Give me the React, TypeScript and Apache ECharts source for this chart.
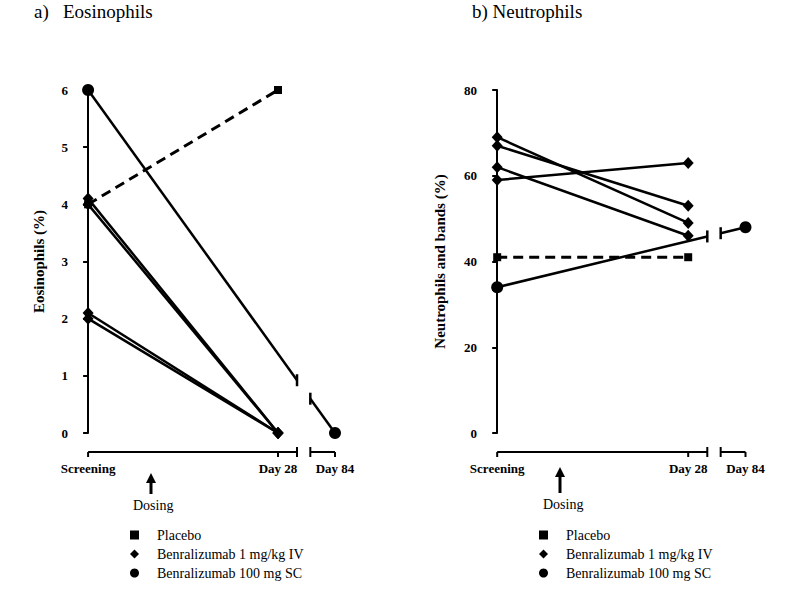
import React, { useEffect, useRef } from "react";
import * as echarts from "echarts";

// ---- data ----
const timeLabels = ["Screening", "Day 28", "Day 84"];
const timeX = [0, 1, 1.3];
const breakX = [1.1, 1.17];
const seriesNames = ["Placebo", "Benralizumab 1 mg/kg IV", "Benralizumab 100 mg SC"];

// Eosinophils (%): [Screening, Day 28] ; SC: [Screening, Day 84]
const eosPlacebo = [[4.0, 6.0]];
const eosIV = [[4.1, 0], [4.0, 0], [2.1, 0], [2.0, 0]];
const eosSC = [[6.0, 0]];

// Neutrophils and bands (%)
const neuPlacebo = [[41, 41]];
const neuIV = [[69, 49], [67, 53], [62, 46], [59, 63]];
const neuSC = [[34, 48]];

const eosTicks = { min: 0, max: 6, interval: 1 };
const neuTicks = { min: 0, max: 80, interval: 20 };

const SERIF = "Liberation Serif, Times New Roman, serif";
const BLACK = "#000";

function panelSeries(gi: number, placebo: number[][], iv: number[][], sc: number[][]) {
  const s: any[] = [];
  placebo.forEach((p) =>
    s.push({
      type: "line",
      name: seriesNames[0],
      xAxisIndex: gi,
      yAxisIndex: gi,
      data: [[timeX[0], p[0]], [timeX[1], p[1]]],
      symbol: "rect",
      symbolSize: 8,
      lineStyle: { color: BLACK, width: 3, type: [10, 6] },
      itemStyle: { color: BLACK, opacity: 1 },
      z: 3,
    })
  );
  iv.forEach((p) =>
    s.push({
      type: "line",
      name: seriesNames[1],
      xAxisIndex: gi,
      yAxisIndex: gi,
      data: [[timeX[0], p[0]], [timeX[1], p[1]]],
      symbol: "diamond",
      symbolSize: [11, 12],
      lineStyle: { color: BLACK, width: 2.5 },
      itemStyle: { color: BLACK, opacity: 1 },
      z: 4,
    })
  );
  sc.forEach((p) => {
    s.push({
      type: "custom",
      xAxisIndex: gi,
      yAxisIndex: gi,
      clip: false,
      silent: true,
      data: [[timeX[0], p[0], timeX[2], p[1]]],
      encode: { x: [0, 2], y: [1, 3] },
      renderItem: (params: any, api: any) => {
        const a = api.coord([api.value(0), api.value(1)]);
        const b = api.coord([api.value(2), api.value(3)]);
        const gA = api.coord([breakX[0], 0])[0];
        const gB = api.coord([breakX[1], 0])[0];
        const yAt = (x: number) => a[1] + ((x - a[0]) / (b[0] - a[0])) * (b[1] - a[1]);
        const st = { stroke: BLACK, lineWidth: 2.5 };
        return {
          type: "group",
          children: [
            { type: "line", shape: { x1: a[0], y1: a[1], x2: gA, y2: yAt(gA) }, style: st },
            { type: "line", shape: { x1: gA, y1: yAt(gA) - 6, x2: gA, y2: yAt(gA) + 6 }, style: st },
            { type: "line", shape: { x1: gB, y1: yAt(gB) - 6, x2: gB, y2: yAt(gB) + 6 }, style: st },
            { type: "line", shape: { x1: gB, y1: yAt(gB), x2: b[0], y2: b[1] }, style: st },
          ],
        };
      },
      z: 3,
    });
    s.push({
      type: "scatter",
      name: seriesNames[2],
      xAxisIndex: gi,
      yAxisIndex: gi,
      data: [[timeX[0], p[0]], [timeX[2], p[1]]],
      symbol: "circle",
      symbolSize: 12,
      itemStyle: { color: BLACK, opacity: 1 },
      z: 5,
    });
  });
  // broken bottom axis
  const segs = [[timeX[0], breakX[0]], [breakX[1], timeX[2]]];
  s.push({
    type: "custom",
    xAxisIndex: gi,
    yAxisIndex: gi,
    clip: false,
    silent: true,
    data: segs,
    encode: { x: [0, 1] },
    renderItem: (params: any, api: any) => {
      const a = api.coord([api.value(0), 0]);
      const b = api.coord([api.value(1), 0]);
      const y = a[1] + 19;
      const st = { stroke: BLACK, lineWidth: 2 };
      const children: any[] = [{ type: "line", shape: { x1: a[0], y1: y, x2: b[0], y2: y }, style: st }];
      [api.value(0), api.value(1)].forEach((v: number) => {
        const x = api.coord([v, 0])[0];
        const isBreak = breakX.some((bx) => Math.abs(bx - v) < 1e-6);
        children.push({ type: "line", shape: { x1: x, y1: isBreak ? y - 5 : y, x2: x, y2: y + 5 }, style: st });
      });
      timeX.forEach((v) => {
        if (v > api.value(0) + 1e-6 && v < api.value(1) - 1e-6) {
          const x = api.coord([v, 0])[0];
          children.push({ type: "line", shape: { x1: x, y1: y, x2: x, y2: y + 5 }, style: st });
        }
      });
      return { type: "group", children };
    },
  });
  return s;
}

function xAxisFor(gi: number) {
  return {
    type: "value",
    gridIndex: gi,
    min: -0.09,
    max: 1.4,
    axisLine: { show: false },
    axisTick: { show: false },
    splitLine: { show: false },
    axisLabel: {
      customValues: timeX,
      margin: 29,
      fontFamily: SERIF,
      fontWeight: "bold",
      fontSize: 13,
      color: BLACK,
      formatter: (v: number) => {
        const i = timeX.findIndex((t) => Math.abs(t - v) < 1e-6);
        return i >= 0 ? timeLabels[i] : "";
      },
    },
  };
}

function yAxisFor(gi: number, ticks: any, name: string, gap: number) {
  return {
    type: "value",
    gridIndex: gi,
    min: ticks.min,
    max: ticks.max,
    interval: ticks.interval,
    name,
    nameLocation: "middle",
    nameGap: gap,
    nameTextStyle: { fontFamily: SERIF, fontWeight: "bold", fontSize: 15, color: BLACK },
    axisLine: { show: true, lineStyle: { color: BLACK, width: 2 } },
    axisTick: { show: true, length: 5, lineStyle: { color: BLACK, width: 2 } },
    splitLine: { show: false },
    axisLabel: { margin: 3, fontFamily: SERIF, fontWeight: "bold", fontSize: 13, color: BLACK },
  };
}

function legendFor(left: number) {
  return {
    orient: "vertical",
    left,
    top: 523,
    itemWidth: 9,
    itemHeight: 9,
    itemGap: 5,
    selectedMode: false,
    itemStyle: { color: BLACK, borderWidth: 0, opacity: 1 },
    lineStyle: { width: 0 },
    textStyle: { fontFamily: SERIF, fontSize: 14, color: BLACK, padding: [0, 0, 0, 13], lineHeight: 14 },
    data: [
      { name: seriesNames[0], icon: "rect" },
      { name: seriesNames[1], icon: "diamond" },
      { name: seriesNames[2], icon: "circle" },
    ],
  };
}

function arrow(x: number, yTop: number, yBot: number) {
  return [
    { type: "line", shape: { x1: x, y1: yTop + 6, x2: x, y2: yBot }, style: { stroke: BLACK, lineWidth: 3 } },
    {
      type: "polygon",
      shape: { points: [[x, yTop], [x - 5, yTop + 10], [x + 5, yTop + 10]] },
      style: { fill: BLACK },
    },
  ];
}

export default function App() {
  const ref = useRef<HTMLDivElement>(null);
  useEffect(() => {
    if (!ref.current) return;
    const chart = echarts.init(ref.current, null, { renderer: "svg" });
    chart.setOption({
      animation: false,
      backgroundColor: "#fff",
      grid: [
        { left: 71, top: 90, width: 283, height: 343 },
        { left: 480, top: 90, width: 284.6, height: 343 },
      ],
      xAxis: [xAxisFor(0), xAxisFor(1)],
      yAxis: [
        yAxisFor(0, eosTicks, "Eosinophils (%)", 25),
        yAxisFor(1, neuTicks, "Neutrophils and bands (%)", 33),
      ],
      legend: [legendFor(125), legendFor(534)],
      series: [...panelSeries(0, eosPlacebo, eosIV, eosSC), ...panelSeries(1, neuPlacebo, neuIV, neuSC)],
      graphic: [
        { type: "text", left: 34, top: 2, style: { text: "a)   Eosinophils", fontFamily: SERIF, fontSize: 19, fill: BLACK } },
        { type: "text", left: 472, top: 2, style: { text: "b) Neutrophils", fontFamily: SERIF, fontSize: 19, fill: BLACK } },
        ...arrow(151, 473, 494),
        ...arrow(560, 467, 493),
        { type: "text", left: 133, top: 498, style: { text: "Dosing", fontFamily: SERIF, fontSize: 14, fill: BLACK } },
        { type: "text", left: 543, top: 497, style: { text: "Dosing", fontFamily: SERIF, fontSize: 14, fill: BLACK } },
      ],
    });
    return () => chart.dispose();
  }, []);
  return <div ref={ref} style={{ position: "absolute", left: 0, top: 0, width: 800, height: 612 }} />;
}
